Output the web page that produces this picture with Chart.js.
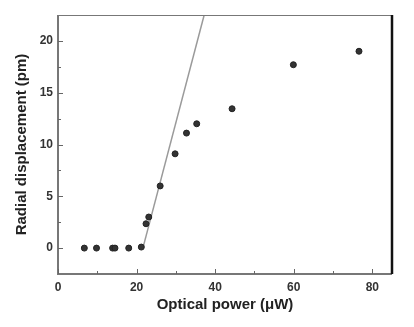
<!DOCTYPE html>
<html>
<head>
<meta charset="utf-8">
<script src="https://cdn.jsdelivr.net/npm/chart.js@4"></script>
<style>
  body { margin: 0; background: #fff; }
</style>
</head>
<body>
<canvas id="myChart" width="414" height="327"></canvas>
<script>
// measured points (optical power uW, radial displacement pm)
const powerValues = [6.7, 9.8, 13.9, 14.5, 18.0, 21.2, 22.4, 23.1, 26.0, 29.8, 32.7, 35.3, 44.3, 59.9, 76.6];
const displacementValues = [0, 0, 0, 0, 0, 0.1, 2.35, 3.0, 6.0, 9.1, 11.1, 12.0, 13.45, 17.7, 19.0];

// linear fit line endpoints
const fitPower = [21.6, 37.2];
const fitDisplacement = [0, 22.5];

const xTickValues = [0, 20, 40, 60, 80];
const yTickValues = [0, 5, 10, 15, 20];
const xMinorTicks = [10, 30, 50, 70];
const yMinorTicks = [2.5, 7.5, 12.5, 17.5];

const points = powerValues.map((p, i) => ({ x: p, y: displacementValues[i] }));
const fitLine = fitPower.map((p, i) => ({ x: p, y: fitDisplacement[i] }));

// frame + inward tick marks
const framePlugin = {
  id: 'frame',
  afterDraw(chart) {
    const { ctx, chartArea: a, scales } = chart;
    ctx.save();
    ctx.lineCap = 'butt';
    // top
    ctx.strokeStyle = '#777';
    ctx.lineWidth = 1;
    ctx.beginPath();
    ctx.moveTo(a.left, a.top + 0.5);
    ctx.lineTo(a.right, a.top + 0.5);
    ctx.stroke();
    // left + bottom
    ctx.strokeStyle = '#777';
    ctx.lineWidth = 2;
    ctx.beginPath();
    ctx.moveTo(a.left, a.top);
    ctx.lineTo(a.left, a.bottom);
    ctx.lineTo(a.right, a.bottom);
    ctx.stroke();
    // right (heavy)
    ctx.strokeStyle = '#111';
    ctx.lineWidth = 2.5;
    ctx.beginPath();
    ctx.moveTo(a.right, a.top);
    ctx.lineTo(a.right, a.bottom);
    ctx.stroke();

    ctx.strokeStyle = '#666';
    ctx.lineWidth = 1;
    const tick = (vals, len, axis) => {
      vals.forEach(v => {
        ctx.beginPath();
        if (axis === 'x') {
          const px = Math.round(scales.x.getPixelForValue(v)) + 0.5;
          ctx.moveTo(px, a.bottom);
          ctx.lineTo(px, a.bottom - len);
        } else {
          const py = Math.round(scales.y.getPixelForValue(v)) + 0.5;
          ctx.moveTo(a.left, py);
          ctx.lineTo(a.left + len, py);
        }
        ctx.stroke();
      });
    };
    tick(xTickValues, 5, 'x');
    tick(xMinorTicks, 3, 'x');
    tick(yTickValues, 5, 'y');
    tick(yMinorTicks, 3, 'y');
    ctx.restore();
  }
};

const ctx = document.getElementById('myChart').getContext('2d');
const myChart = new Chart(ctx, {
  type: 'scatter',
  data: {
    datasets: [
      {
        label: 'Fit',
        type: 'line',
        data: fitLine,
        borderColor: '#9a9a9a',
        borderWidth: 1.5,
        pointRadius: 0,
        fill: false,
        order: 2
      },
      {
        label: 'Data',
        data: points,
        backgroundColor: '#333',
        borderColor: '#222',
        borderWidth: 1,
        pointRadius: 3,
        order: 1
      }
    ]
  },
  options: {
    responsive: false,
    animation: false,
    layout: { padding: { top: 15, right: 22, left: 0, bottom: 0 } },
    plugins: {
      legend: { display: false },
      tooltip: { enabled: false }
    },
    scales: {
      x: {
        type: 'linear',
        min: 0,
        max: 85,
        afterBuildTicks: s => { s.ticks = xTickValues.map(v => ({ value: v })); },
        afterFit: s => { s.height = 53; },
        grid: { display: false, drawTicks: false },
        border: { display: false },
        ticks: {
          padding: 6,
          color: '#333',
          font: { family: 'Liberation Sans, Arial', size: 12, weight: 'bold' }
        },
        title: {
          display: true,
          text: 'Optical power (\u03bcW)',
          color: '#222',
          padding: { top: 0, bottom: 13 },
          font: { family: 'Liberation Sans, Arial', size: 15, weight: 'bold' }
        }
      },
      y: {
        type: 'linear',
        min: -2.5,
        max: 22.5,
        afterBuildTicks: s => { s.ticks = yTickValues.map(v => ({ value: v })); },
        afterFit: s => { s.width = 58; },
        grid: { display: false, drawTicks: false },
        border: { display: false },
        ticks: {
          padding: 5,
          color: '#333',
          font: { family: 'Liberation Sans, Arial', size: 12, weight: 'bold' }
        },
        title: {
          display: true,
          text: 'Radial displacement (pm)',
          color: '#222',
          padding: { top: 13, bottom: 0 },
          font: { family: 'Liberation Sans, Arial', size: 15, weight: 'bold' }
        }
      }
    }
  },
  plugins: [framePlugin]
});
</script>
</body>
</html>
